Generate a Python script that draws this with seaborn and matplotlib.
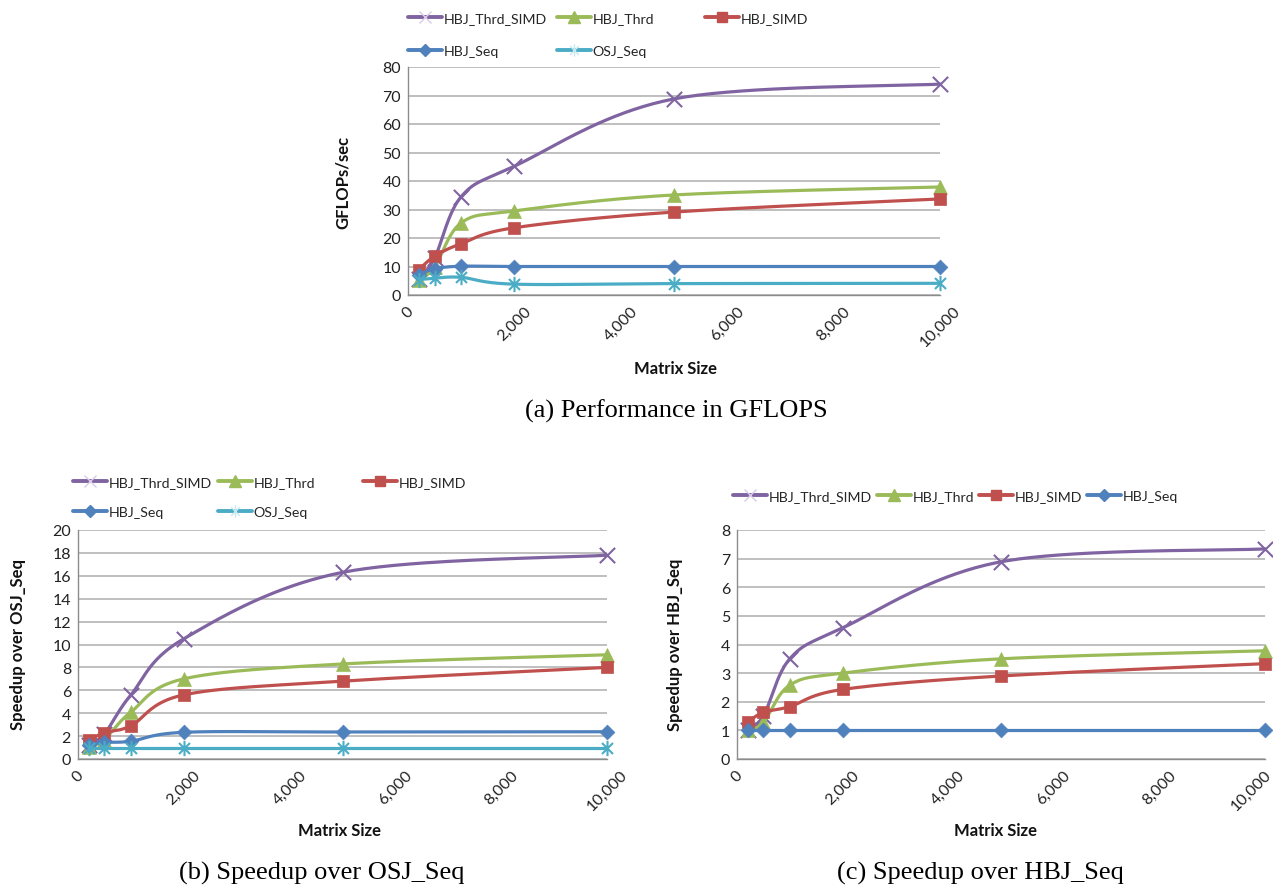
import numpy as np
import pandas as pd
import matplotlib
matplotlib.use("Agg")
import matplotlib.pyplot as plt
import matplotlib.transforms as mtransforms
from matplotlib.lines import Line2D
from matplotlib.path import Path
import seaborn as sns

# ---------------- data ----------------
matrix_sizes = [200, 500, 1000, 2000, 5000, 10000]
x_ticks = [0, 2000, 4000, 6000, 8000, 10000]
x_tick_labels = ["0", "2,000", "4,000", "6,000", "8,000", "10,000"]

# (a) performance, GFLOPs/sec
gflops_thrd_simd = [5.5, 13.0, 34.5, 45.2, 68.8, 74.0]
gflops_thrd = [5.1, 9.8, 25.3, 29.5, 35.1, 37.9]
gflops_simd = [8.8, 13.6, 18.0, 23.6, 29.1, 33.7]
gflops_hbj_seq = [7.0, 9.2, 10.1, 10.0, 10.0, 10.0]
gflops_osj_seq = [5.4, 5.9, 6.2, 3.8, 4.0, 4.1]

# (b) speedup over OSJ_Seq
osj_thrd_simd = [1.2, 2.2, 5.6, 10.5, 16.3, 17.8]
osj_thrd = [1.05, 1.7, 4.1, 7.0, 8.3, 9.1]
osj_simd = [1.65, 2.3, 2.9, 5.6, 6.8, 8.0]
osj_hbj_seq = [1.25, 1.45, 1.55, 2.33, 2.36, 2.38]
osj_osj_seq = [1.0, 1.0, 1.0, 1.0, 1.0, 1.0]

# (c) speedup over HBJ_Seq
hbj_thrd_simd = [1.0, 1.5, 3.5, 4.58, 6.89, 7.34]
hbj_thrd = [1.0, 1.28, 2.58, 3.0, 3.5, 3.78]
hbj_simd = [1.29, 1.63, 1.83, 2.43, 2.9, 3.33]
hbj_hbj_seq = [1.0, 1.0, 1.0, 1.0, 1.0, 1.0]

series_names = ["HBJ_Thrd_SIMD", "HBJ_Thrd", "HBJ_SIMD", "HBJ_Seq", "OSJ_Seq"]

# ---------------- styling ----------------
sns.set_theme(style="white")
plt.rcParams["font.family"] = ["Lato", "DejaVu Sans"]

asterisk = Path(
    [(0, -1), (0, 1), (-0.72, -0.72), (0.72, 0.72), (-0.72, 0.72), (0.72, -0.72)],
    [Path.MOVETO, Path.LINETO, Path.MOVETO, Path.LINETO, Path.MOVETO, Path.LINETO],
)

styles = {
    "HBJ_Thrd_SIMD": dict(color="#8064A2", marker="x", size=11, filled=False, pale="#D8CCE6"),
    "HBJ_Thrd": dict(color="#9BBB59", marker="^", size=10, filled=True, pale=None),
    "HBJ_SIMD": dict(color="#C0504D", marker="s", size=9, filled=True, pale=None),
    "HBJ_Seq": dict(color="#4F81BD", marker="D", size=7.5, filled=True, pale=None),
    "OSJ_Seq": dict(color="#4BACC6", marker=asterisk, size=11, filled=False, pale="#C8E8F0"),
}
LINE_W = 2.3
GRID_C = "#AEAEAE"
SPINE_C = "#8C8C8C"
TICK_FS = 11.5
LEG_FS = 10.2

W, H = 1273, 887


def smooth_curve(xs, ys, steps=40):
    """Piecewise cubic Bezier through the points (Catmull-Rom style control points)."""
    p = np.column_stack([xs, ys]).astype(float)
    n = len(p)
    out = []
    for i in range(n - 1):
        p0 = p[i - 1] if i > 0 else p[i]
        p1 = p[i]
        p2 = p[i + 1]
        p3 = p[i + 2] if i + 2 < n else p[i + 1]
        c1 = p1 + (p2 - p0) / 6.0
        c2 = p2 - (p3 - p1) / 6.0
        t = np.linspace(0, 1, steps, endpoint=(i == n - 2))[:, None]
        seg = ((1 - t) ** 3) * p1 + 3 * ((1 - t) ** 2) * t * c1 + 3 * (1 - t) * t ** 2 * c2 + t ** 3 * p2
        out.append(seg)
    arr = np.vstack(out)
    return arr[:, 0], arr[:, 1]


def draw_panel(ax, series, ymax, ystep):
    for k, (name, vals) in enumerate(series):
        st = styles[name]
        cx, cy = smooth_curve(matrix_sizes, vals)
        curve = pd.DataFrame({"size": cx, "value": cy})
        sns.lineplot(data=curve, x="size", y="value", sort=False, estimator=None,
                     color=st["color"], linewidth=LINE_W, ax=ax, zorder=3 + 2 * k,
                     clip_on=False)
        pts = pd.DataFrame({"size": matrix_sizes, "value": vals})
        sns.scatterplot(data=pts, x="size", y="value", marker=st["marker"],
                        s=st["size"] ** 2, color=st["color"], edgecolor=st["color"],
                        linewidth=0.5 if st["filled"] else 1.5, ax=ax,
                        zorder=4 + 2 * k, clip_on=False)
    ax.set_xlim(0, 10000)
    ax.set_ylim(0, ymax)
    ax.set_xticks(x_ticks)
    ax.set_xticklabels(x_tick_labels, rotation=45, ha="center", va="top")
    yt = np.arange(0, ymax + ystep / 2, ystep)
    ax.set_yticks(yt)
    ax.set_yticklabels([f"{v:g}" for v in yt])
    ax.tick_params(axis="both", length=0, labelsize=TICK_FS, colors="#222222")
    ax.tick_params(axis="x", pad=6)
    ax.tick_params(axis="y", pad=5)
    ax.yaxis.grid(True, color=GRID_C, linewidth=1.1, zorder=0)
    ax.xaxis.grid(False)
    ax.set_axisbelow(True)
    for side in ("top", "right"):
        ax.spines[side].set_visible(False)
    for side in ("left", "bottom"):
        ax.spines[side].set_color(SPINE_C)
        ax.spines[side].set_linewidth(1.0)
    ax.set_xlabel("")
    ax.set_ylabel("")


def legend_entry(fig, name, px, py):
    st = styles[name]
    h = Line2D([0], [0], color=st["color"], lw=LINE_W + 0.5, marker=st["marker"],
               markersize=st["size"] * 0.8, markerfacecolor=st["color"],
               markeredgecolor=st["color"] if st["filled"] else st["pale"],
               markeredgewidth=1.0)
    fig.legend(handles=[h], labels=[name], loc="center left",
               bbox_to_anchor=(px / W, 1 - py / H), frameon=False,
               fontsize=LEG_FS, handlelength=2.4, handletextpad=0.12,
               borderpad=0, borderaxespad=0, numpoints=1)


fig = plt.figure(figsize=(W / 100, H / 100), dpi=100)
fig.patch.set_facecolor("white")

ax_a = fig.add_axes([408 / W, 1 - 296 / H, 532 / W, 228 / H])
ax_b = fig.add_axes([78 / W, 1 - 760 / H, 529 / W, 229 / H])
ax_c = fig.add_axes([737 / W, 1 - 760 / H, 528 / W, 229 / H])

draw_panel(ax_a, list(zip(series_names, [gflops_thrd_simd, gflops_thrd, gflops_simd,
                                         gflops_hbj_seq, gflops_osj_seq])), 80, 10)
draw_panel(ax_b, list(zip(series_names, [osj_thrd_simd, osj_thrd, osj_simd,
                                         osj_hbj_seq, osj_osj_seq])), 20, 2)
draw_panel(ax_c, list(zip(series_names[:4], [hbj_thrd_simd, hbj_thrd, hbj_simd,
                                             hbj_hbj_seq])), 8, 1)

# the last tick label of the right panel is pulled inside the figure edge
last = ax_c.get_xticklabels()[-1]
last.set_transform(last.get_transform() + mtransforms.ScaledTranslation(-14 / 100, 0, fig.dpi_scale_trans))

# legends
for name, px, py in [("HBJ_Thrd_SIMD", 408, 19), ("HBJ_Thrd", 557, 19), ("HBJ_SIMD", 705, 19),
                     ("HBJ_Seq", 408, 52), ("OSJ_Seq", 557, 52)]:
    legend_entry(fig, name, px, py)
for name, px, py in [("HBJ_Thrd_SIMD", 73, 483), ("HBJ_Thrd", 218, 483), ("HBJ_SIMD", 363, 483),
                     ("HBJ_Seq", 73, 513), ("OSJ_Seq", 218, 513)]:
    legend_entry(fig, name, px, py)
for name, px, py in [("HBJ_Thrd_SIMD", 733, 497), ("HBJ_Thrd", 877, 497), ("HBJ_SIMD", 979, 497),
                     ("HBJ_Seq", 1087, 497)]:
    legend_entry(fig, name, px, py)

# axis titles
lab_kw = dict(fontsize=12, fontweight="bold", color="#111111", ha="center", va="center")
fig.text(343 / W, 1 - 182 / H, "GFLOPs/sec", rotation=90, **lab_kw)
fig.text(18 / W, 1 - 645 / H, "Speedup over OSJ_Seq", rotation=90, **lab_kw)
fig.text(675 / W, 1 - 645 / H, "Speedup over HBJ_Seq", rotation=90, **lab_kw)
fig.text(675 / W, 1 - 369 / H, "Matrix Size", **lab_kw)
fig.text(340 / W, 1 - 831 / H, "Matrix Size", **lab_kw)
fig.text(995 / W, 1 - 831 / H, "Matrix Size", **lab_kw)

# captions
cap_kw = dict(fontsize=19, family="Liberation Serif", color="black", ha="center", va="center")
fig.text(676 / W, 1 - 411 / H, "(a) Performance in GFLOPS", **cap_kw)
fig.text(322 / W, 1 - 873 / H, "(b) Speedup over OSJ_Seq", **cap_kw)
fig.text(980 / W, 1 - 873 / H, "(c) Speedup over HBJ_Seq", **cap_kw)

fig.savefig("out.png", dpi=100, facecolor="white")
